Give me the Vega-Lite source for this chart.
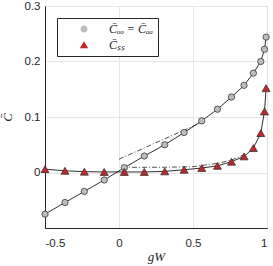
{
  "$schema": "https://vega.github.io/schema/vega-lite/v6.json",
  "width": 222,
  "height": 222,
  "autosize": {"type": "none"},
  "padding": {"left": 45, "top": 6, "right": 6, "bottom": 38},
  "background": "white",
  "config": {
    "view": {"stroke": "#262626", "strokeWidth": 1},
    "axis": {
      "labelFont": "Liberation Sans",
      "labelFontSize": 11.5,
      "labelColor": "#262626",
      "domainColor": "#262626",
      "ticks": false,
      "gridColor": "#e6e6e6",
      "gridWidth": 1,
      "titleFont": "Liberation Serif",
      "titleFontStyle": "italic",
      "titleFontWeight": "normal",
      "titleFontSize": 13,
      "titleColor": "#262626"
    },
    "legend": {
      "orient": "top-left",
      "offset": 12,
      "labelFont": "Liberation Serif",
      "labelFontStyle": "italic",
      "labelFontSize": 12,
      "labelColor": "#262626",
      "symbolSize": 49,
      "symbolOffset": 16,
      "labelOffset": 19,
      "symbolStrokeColor": "#262626",
      "symbolStrokeWidth": 0.8,
      "rowPadding": 4,
      "padding": 5,
      "strokeColor": "#262626",
      "fillColor": "white"
    }
  },
  "datasets": {
    "main": [
      {"s": "oo", "x": -0.5, "y": -0.075},
      {"s": "oo", "x": -0.365, "y": -0.054},
      {"s": "oo", "x": -0.234, "y": -0.034},
      {"s": "oo", "x": -0.1, "y": -0.0135},
      {"s": "oo", "x": 0.036, "y": 0.0087},
      {"s": "oo", "x": 0.171, "y": 0.0297},
      {"s": "oo", "x": 0.309, "y": 0.05},
      {"s": "oo", "x": 0.44, "y": 0.072},
      {"s": "oo", "x": 0.559, "y": 0.093},
      {"s": "oo", "x": 0.665, "y": 0.114},
      {"s": "oo", "x": 0.76, "y": 0.136},
      {"s": "oo", "x": 0.845, "y": 0.157},
      {"s": "oo", "x": 0.908, "y": 0.179},
      {"s": "oo", "x": 0.958, "y": 0.2},
      {"s": "oo", "x": 0.983, "y": 0.222},
      {"s": "oo", "x": 0.994, "y": 0.244},
      {"s": "ss", "x": -0.5, "y": 0.006},
      {"s": "ss", "x": -0.365, "y": 0.003},
      {"s": "ss", "x": -0.234, "y": 0.0015},
      {"s": "ss", "x": -0.1, "y": 0.001},
      {"s": "ss", "x": 0.036, "y": 0.001},
      {"s": "ss", "x": 0.171, "y": 0.001},
      {"s": "ss", "x": 0.309, "y": 0.002},
      {"s": "ss", "x": 0.44, "y": 0.005},
      {"s": "ss", "x": 0.559, "y": 0.008},
      {"s": "ss", "x": 0.665, "y": 0.012},
      {"s": "ss", "x": 0.76, "y": 0.0195},
      {"s": "ss", "x": 0.845, "y": 0.029},
      {"s": "ss", "x": 0.908, "y": 0.044},
      {"s": "ss", "x": 0.958, "y": 0.071},
      {"s": "ss", "x": 0.983, "y": 0.11},
      {"s": "ss", "x": 0.994, "y": 0.152}
    ],
    "ref": [
      {"s": "r1", "x": 0.0, "y": 0.024},
      {"s": "r1", "x": 0.56, "y": 0.0906},
      {"s": "r2", "x": 0.02, "y": 0.0094},
      {"s": "r2", "x": 0.3, "y": 0.0094},
      {"s": "r2", "x": 0.5, "y": 0.0105},
      {"s": "r2", "x": 0.67, "y": 0.0166},
      {"s": "r2", "x": 0.76, "y": 0.0225},
      {"s": "r2", "x": 0.84, "y": 0.0315}
    ]
  },
  "encoding": {
    "x": {
      "field": "x",
      "type": "quantitative",
      "scale": {"domain": [-0.5, 1], "nice": false, "zero": false},
      "axis": {
        "values": [-0.5, 0, 0.5, 1],
        "format": "~g",
        "labelExpr": "replace(datum.label, '\u2212', '-')",
        "labelPadding": 9,
        "title": "gW",
        "titlePadding": 2
      }
    },
    "y": {
      "field": "y",
      "type": "quantitative",
      "scale": {"domain": [-0.1, 0.3], "nice": false, "zero": false},
      "axis": {
        "values": [0, 0.1, 0.2, 0.3],
        "format": "~g",
        "labelPadding": 5,
        "title": "C\u0304",
        "titlePadding": 10
      }
    }
  },
  "layer": [
    {
      "data": {"name": "ref"},
      "mark": {"type": "line", "color": "#262626", "strokeWidth": 0.8, "strokeDash": [5, 2, 1, 2]},
      "encoding": {"detail": {"field": "s"}}
    },
    {
      "data": {"name": "main"},
      "mark": {"type": "line", "color": "#1a1a1a", "strokeWidth": 0.9},
      "encoding": {"detail": {"field": "s"}}
    },
    {
      "data": {"name": "main"},
      "mark": {"type": "point", "filled": true, "opacity": 1, "stroke": "#262626", "strokeWidth": 0.8, "size": 0},
      "encoding": {
        "shape": {
          "field": "s",
          "type": "nominal",
          "scale": {"domain": ["oo", "ss"], "range": ["M-5.6,0H-1M1,0H5.6M1,0A1,1 0 1,1 -1,0A1,1 0 1,1 1,0Z", "M-5.6,0H-0.6M0.6,0H5.6M0,-1.1L1.2,0.9L-1.2,0.9Z"]},
          "legend": {
            "title": null,
            "labelExpr": "datum.value === 'oo' ? 'C\u0304\u2092\u2092 = C\u0304\u2090\u2090' : 'C\u0304\u209b\u209b'"
          }
        },
        "fill": {
          "field": "s",
          "type": "nominal",
          "scale": {"domain": ["oo", "ss"], "range": ["#bdbdbd", "#c1272d"]},
          "legend": {
            "title": null,
            "labelExpr": "datum.value === 'oo' ? 'C\u0304\u2092\u2092 = C\u0304\u2090\u2090' : 'C\u0304\u209b\u209b'"
          }
        }
      }
    },
    {
      "data": {"name": "main"},
      "mark": {"type": "point", "filled": true, "opacity": 1, "stroke": "#262626", "strokeWidth": 0.7},
      "encoding": {
        "shape": {"condition": {"test": "datum.s === 'oo'", "value": "circle"}, "value": "triangle-up"},
        "size": {"condition": {"test": "datum.s === 'oo'", "value": 40}, "value": 64},
        "fill": {"condition": {"test": "datum.s === 'oo'", "value": "#bdbdbd"}, "value": "#c1272d"}
      }
    }
  ]
}
